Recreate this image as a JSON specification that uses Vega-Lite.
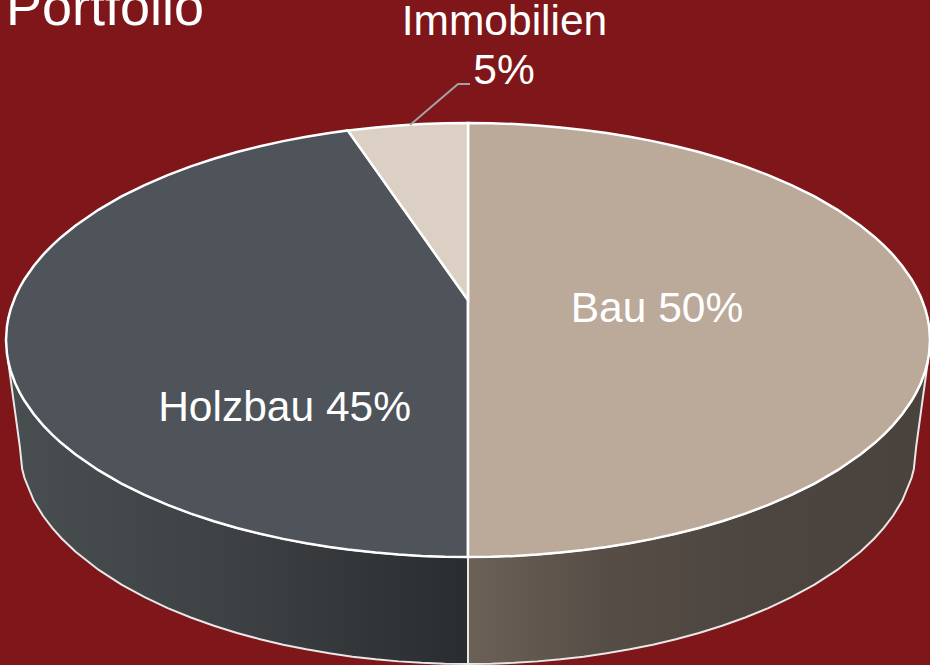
{
"$schema":"https://vega.github.io/schema/vega-lite/v6.json",
"width":930,"height":665,"padding":0,"autosize":{"type":"none"},
"background":"#7E161A",
"config":{"view":{"stroke":null}},
"datasets":{
"bauSide":[
{"x":0,"y":-1,"y2":-1.493},{"x":0.05,"y":-0.99875,"y2":-1.4917},{"x":0.1,"y":-0.99499,"y2":-1.4877},{"x":0.15,"y":-0.98869,"y2":-1.481},{"x":0.2,"y":-0.9798,"y2":-1.4715},{"x":0.25,"y":-0.96825,"y2":-1.4592},{"x":0.3,"y":-0.95394,"y2":-1.444},{"x":0.35,"y":-0.93675,"y2":-1.4256},{"x":0.4,"y":-0.91652,"y2":-1.404},{"x":0.45,"y":-0.89303,"y2":-1.3789},{"x":0.5,"y":-0.86603,"y2":-1.3499},{"x":0.55,"y":-0.83516,"y2":-1.3167},{"x":0.6,"y":-0.8,"y2":-1.2787},{"x":0.65,"y":-0.75993,"y2":-1.2353},{"x":0.7,"y":-0.71414,"y2":-1.1853},{"x":0.75,"y":-0.66144,"y2":-1.1272},{"x":0.8,"y":-0.6,"y2":-1.0585},{"x":0.85,"y":-0.52678,"y2":-0.9748},{"x":0.88,"y":-0.47497,"y2":-0.9137},{"x":0.9,"y":-0.43589,"y2":-0.866},{"x":0.92,"y":-0.39192,"y2":-0.8099},{"x":0.94,"y":-0.34117,"y2":-0.7397},{"x":0.96,"y":-0.28,"y2":-0.6362},{"x":0.965,"y":-0.26225,"y2":-0.5943},{"x":0.97,"y":-0.2431,"y2":-0.493},{"x":0.98,"y":-0.199,"y2":-0.3374},{"x":0.99,"y":-0.14107,"y2":-0.1817},{"x":0.9957,"y":-0.093,"y2":-0.093}],
"holzSide":[
{"x":-0.9957,"y":-0.093,"y2":-0.093},{"x":-0.99,"y":-0.14107,"y2":-0.1817},{"x":-0.98,"y":-0.199,"y2":-0.3374},{"x":-0.97,"y":-0.2431,"y2":-0.493},{"x":-0.965,"y":-0.26225,"y2":-0.5943},{"x":-0.96,"y":-0.28,"y2":-0.6362},{"x":-0.94,"y":-0.34117,"y2":-0.7397},{"x":-0.92,"y":-0.39192,"y2":-0.8099},{"x":-0.9,"y":-0.43589,"y2":-0.866},{"x":-0.88,"y":-0.47497,"y2":-0.9137},{"x":-0.85,"y":-0.52678,"y2":-0.9748},{"x":-0.8,"y":-0.6,"y2":-1.0585},{"x":-0.75,"y":-0.66144,"y2":-1.1272},{"x":-0.7,"y":-0.71414,"y2":-1.1853},{"x":-0.65,"y":-0.75993,"y2":-1.2353},{"x":-0.6,"y":-0.8,"y2":-1.2787},{"x":-0.55,"y":-0.83516,"y2":-1.3167},{"x":-0.5,"y":-0.86603,"y2":-1.3499},{"x":-0.45,"y":-0.89303,"y2":-1.3789},{"x":-0.4,"y":-0.91652,"y2":-1.404},{"x":-0.35,"y":-0.93675,"y2":-1.4256},{"x":-0.3,"y":-0.95394,"y2":-1.444},{"x":-0.25,"y":-0.96825,"y2":-1.4592},{"x":-0.2,"y":-0.9798,"y2":-1.4715},{"x":-0.15,"y":-0.98869,"y2":-1.481},{"x":-0.1,"y":-0.99499,"y2":-1.4877},{"x":-0.05,"y":-0.99875,"y2":-1.4917},{"x":0,"y":-1,"y2":-1.493}],
"bauTop":[
{"x":0,"y":1,"y2":-1},{"x":0.05,"y":0.99875,"y2":-0.99875},{"x":0.1,"y":0.99499,"y2":-0.99499},{"x":0.15,"y":0.98869,"y2":-0.98869},{"x":0.2,"y":0.9798,"y2":-0.9798},{"x":0.25,"y":0.96825,"y2":-0.96825},{"x":0.3,"y":0.95394,"y2":-0.95394},{"x":0.35,"y":0.93675,"y2":-0.93675},{"x":0.4,"y":0.91652,"y2":-0.91652},{"x":0.45,"y":0.89303,"y2":-0.89303},{"x":0.5,"y":0.86603,"y2":-0.86603},{"x":0.55,"y":0.83516,"y2":-0.83516},{"x":0.6,"y":0.8,"y2":-0.8},{"x":0.65,"y":0.75993,"y2":-0.75993},{"x":0.7,"y":0.71414,"y2":-0.71414},{"x":0.75,"y":0.66144,"y2":-0.66144},{"x":0.8,"y":0.6,"y2":-0.6},{"x":0.85,"y":0.52678,"y2":-0.52678},{"x":0.88,"y":0.47497,"y2":-0.47497},{"x":0.9,"y":0.43589,"y2":-0.43589},{"x":0.92,"y":0.39192,"y2":-0.39192},{"x":0.94,"y":0.34117,"y2":-0.34117},{"x":0.96,"y":0.28,"y2":-0.28},{"x":0.97,"y":0.2431,"y2":-0.2431},{"x":0.98,"y":0.199,"y2":-0.199},{"x":0.99,"y":0.14107,"y2":-0.14107},{"x":0.995,"y":0.09987,"y2":-0.09987},{"x":0.998,"y":0.06321,"y2":-0.06321},{"x":1,"y":0,"y2":0}],
"holzTop":[
{"x":-1,"y":0,"y2":0},{"x":-0.998,"y":0.06321,"y2":-0.06321},{"x":-0.995,"y":0.09987,"y2":-0.09987},{"x":-0.99,"y":0.14107,"y2":-0.14107},{"x":-0.98,"y":0.199,"y2":-0.199},{"x":-0.97,"y":0.2431,"y2":-0.2431},{"x":-0.96,"y":0.28,"y2":-0.28},{"x":-0.94,"y":0.34117,"y2":-0.34117},{"x":-0.92,"y":0.39192,"y2":-0.39192},{"x":-0.9,"y":0.43589,"y2":-0.43589},{"x":-0.88,"y":0.47497,"y2":-0.47497},{"x":-0.85,"y":0.52678,"y2":-0.52678},{"x":-0.8,"y":0.6,"y2":-0.6},{"x":-0.75,"y":0.66144,"y2":-0.66144},{"x":-0.7,"y":0.71414,"y2":-0.71414},{"x":-0.65,"y":0.75993,"y2":-0.75993},{"x":-0.6,"y":0.8,"y2":-0.8},{"x":-0.55,"y":0.83516,"y2":-0.83516},{"x":-0.5,"y":0.86603,"y2":-0.86603},{"x":-0.45,"y":0.89303,"y2":-0.89303},{"x":-0.4,"y":0.91652,"y2":-0.91652},{"x":-0.35,"y":0.93675,"y2":-0.93675},{"x":-0.3,"y":0.95394,"y2":-0.95394},{"x":-0.26,"y":0.96561,"y2":-0.96561},{"x":-0.2,"y":0.7852,"y2":-0.9798},{"x":-0.15,"y":0.6349,"y2":-0.98869},{"x":-0.1,"y":0.4846,"y2":-0.99499},{"x":-0.05,"y":0.3343,"y2":-0.99875},{"x":0,"y":0.184,"y2":-1}],
"immoTop":[
{"x":-0.26,"y":0.96561,"y2":0.96561},{"x":-0.2,"y":0.9798,"y2":0.7852},{"x":-0.15,"y":0.98869,"y2":0.6349},{"x":-0.1,"y":0.99499,"y2":0.4846},{"x":-0.05,"y":0.99875,"y2":0.3343},{"x":0,"y":1,"y2":0.184}],
"leader":[{"x":-0.1255,"y":0.9908},{"x":-0.0216,"y":1.1797},{"x":0.0043,"y":1.1797}],
"labels":[{"x":0.409,"y":0.083,"label":"Bau 50%"},{"x":-0.397,"y":-0.373,"label":"Holzbau 45%"},{"x":0.079,"y":1.4055,"label":"Immobilien"},{"x":0.078,"y":1.18,"label":"5%"}],
"title":[{"x":-1.0,"y":1.4516,"label":"Portfolio"}]
},
"encoding":{
"x":{"field":"x","type":"quantitative","axis":null,"scale":{"domain":[-1.01299,1],"nice":false,"zero":false}},
"y":{"field":"y","type":"quantitative","axis":null,"scale":{"domain":[-1.4977,1.56682],"nice":false,"zero":false}}
},
"layer":[
{"data":{"name":"holzSide"},"mark":{"type":"area","clip":true,"stroke":"#e8e8e8","strokeWidth":2,"fill":{"gradient":"linear","x1":0,"y1":0,"x2":1,"y2":0,"stops":[{"offset":0,"color":"#494e51"},{"offset":0.5,"color":"#3d4144"},{"offset":1,"color":"#2a2d30"}]}},"encoding":{"y2":{"field":"y2"}}},
{"data":{"name":"bauSide"},"mark":{"type":"area","clip":true,"stroke":"#e8e8e8","strokeWidth":2,"fill":{"gradient":"linear","x1":0,"y1":0,"x2":1,"y2":0,"stops":[{"offset":0,"color":"#6c6157"},{"offset":0.3,"color":"#564d46"},{"offset":0.6,"color":"#4d4540"},{"offset":1,"color":"#4a423d"}]}},"encoding":{"y2":{"field":"y2"}}},
{"data":{"name":"holzTop"},"mark":{"type":"area","fill":"#4F535A","stroke":"#ffffff","strokeWidth":2.5},"encoding":{"y2":{"field":"y2"}}},
{"data":{"name":"bauTop"},"mark":{"type":"area","fill":"#BBA99A","stroke":"#ffffff","strokeWidth":2.5},"encoding":{"y2":{"field":"y2"}}},
{"data":{"name":"immoTop"},"mark":{"type":"area","fill":"#DCCFC3","stroke":"#ffffff","strokeWidth":2.5},"encoding":{"y2":{"field":"y2"}}},
{"data":{"name":"leader"},"mark":{"type":"line","color":"#a3a3a3","strokeWidth":2},"encoding":{"order":{"field":"x"}}},
{"data":{"name":"labels"},"mark":{"type":"text","font":"Liberation Sans","fontSize":42.5,"color":"#ffffff","align":"center","baseline":"alphabetic"},"encoding":{"text":{"field":"label"}}},
{"data":{"name":"title"},"mark":{"type":"text","font":"Liberation Sans","fontSize":54,"color":"#ffffff","align":"left","baseline":"alphabetic"},"encoding":{"text":{"field":"label"}}}
]
}
